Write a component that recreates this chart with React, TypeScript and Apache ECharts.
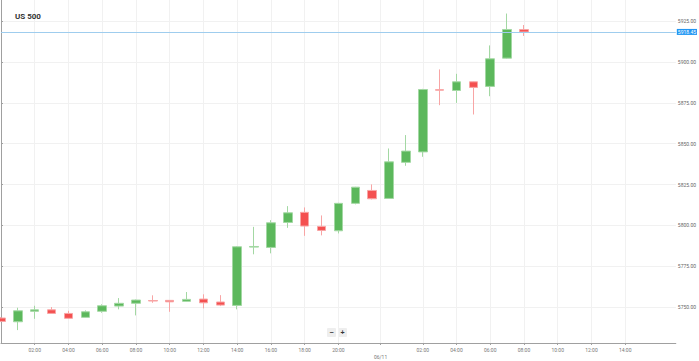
import React, { useEffect, useRef } from 'react';
import * as echarts from 'echarts';

const chartTitle = 'US 500';

// hourly slots (index on the category axis)
const slots = [
  '06/10 00:00', '06/10 01:00', '06/10 02:00', '06/10 03:00', '06/10 04:00', '06/10 05:00',
  '06/10 06:00', '06/10 07:00', '06/10 08:00', '06/10 09:00', '06/10 10:00', '06/10 11:00',
  '06/10 12:00', '06/10 13:00', '06/10 14:00', '06/10 15:00', '06/10 16:00', '06/10 17:00',
  '06/10 18:00', '06/10 19:00', '06/10 20:00', '06/10 21:00', '06/10 23:00',
  '06/11 00:00', '06/11 01:00', '06/11 02:00', '06/11 03:00', '06/11 04:00', '06/11 05:00',
  '06/11 06:00', '06/11 07:00', '06/11 08:00', '06/11 09:00', '06/11 10:00', '06/11 11:00',
  '06/11 12:00', '06/11 13:00', '06/11 14:00', '06/11 15:00', '06/11 16:00', '06/11 17:00',
];

const opens = [
  5743.3, 5741.0, 5747.4, 5748.3, 5746.1, 5743.7, 5747.4, 5750.6, 5752.3, 5754.0, 5754.1,
  5753.5, 5754.9, 5753.1, 5751.0, 5786.7, 5786.5, 5801.8, 5808.0, 5799.4, 5796.7, 5813.5,
  5821.4, 5816.5, 5838.6, 5845.0, 5883.1, 5882.6, 5887.9, 5885.1, 5902.4, 5919.9,
];
const closes = [
  5741.2, 5747.7, 5748.3, 5746.1, 5743.1, 5747.1, 5750.8, 5752.3, 5754.3, 5753.7, 5753.2,
  5754.7, 5752.6, 5751.2, 5786.9, 5787.1, 5801.6, 5807.7, 5799.6, 5796.9, 5813.5, 5823.4,
  5816.3, 5838.9, 5845.5, 5883.2, 5882.8, 5887.9, 5884.5, 5902.0, 5919.95, 5918.45,
];
const lows = [
  5740.8, 5735.9, 5742.8, 5746.0, 5742.7, 5743.6, 5746.5, 5748.6, 5744.9, 5752.6, 5747.1,
  5753.4, 5749.2, 5750.6, 5748.6, 5782.3, 5782.9, 5798.5, 5793.6, 5793.9, 5795.1, 5812.9,
  5815.9, 5816.4, 5836.5, 5842.0, 5873.6, 5875.0, 5867.9, 5879.1, 5902.1, 5916.0,
];
const highs = [
  5743.9, 5749.6, 5750.8, 5750.0, 5747.7, 5748.0, 5751.7, 5755.5, 5754.6, 5757.2, 5754.3,
  5759.2, 5757.8, 5757.3, 5787.3, 5799.1, 5803.2, 5811.8, 5811.0, 5806.1, 5813.8, 5823.6,
  5825.1, 5847.1, 5855.3, 5883.6, 5895.5, 5892.8, 5888.0, 5910.2, 5929.7, 5922.7,
];

const yTicks = [5750, 5775, 5800, 5825, 5850, 5875, 5900, 5925];
const yMin = 5728;
const yMax = 5938;

const xTickPos = [2, 4, 6, 8, 10, 12, 14, 16, 18, 20, 22.5, 25, 27, 29, 31, 33, 35, 37];
const xTickLabels = [
  '02:00', '04:00', '06:00', '08:00', '10:00', '12:00', '14:00', '16:00', '18:00', '20:00',
  '06/11', '02:00', '04:00', '06:00', '08:00', '10:00', '12:00', '14:00',
];
const dateLabels = ['06/11'];

export default function App() {
  const ref = useRef<HTMLDivElement>(null);

  useEffect(() => {
    document.body.style.margin = '0';
    if (!ref.current) return;
    const chart = echarts.init(ref.current, null, { renderer: 'svg' });
    const data = opens.map((o, i) => [o, closes[i], lows[i], highs[i]]);
    const lastClose = closes[closes.length - 1];
    const font = 'Roboto, "Noto Sans", sans-serif';

    chart.setOption({
      animation: false,
      backgroundColor: '#ffffff',
      textStyle: { fontFamily: font },
      title: {
        text: chartTitle,
        left: 10,
        top: 7,
        textStyle: { fontSize: 8, fontWeight: 'bold', color: '#333', fontFamily: font },
      },
      grid: { left: 1, right: 23, top: 0, bottom: 18, containLabel: false },
      xAxis: [
        {
          type: 'category',
          data: slots,
          boundaryGap: false,
          position: 'bottom',
          show: false,
          axisLine: { show: false },
          splitLine: { show: false },
        },
        {
          type: 'value',
          position: 'bottom',
          min: 0,
          max: slots.length - 1,
          axisLine: { show: true, lineStyle: { color: '#a0a0a0', width: 1 } },
          axisTick: { show: true, length: 2, customValues: xTickPos, lineStyle: { color: '#a0a0a0' } },
          axisLabel: {
            customValues: xTickPos,
            fontSize: 5,
            color: '#777',
            margin: 3,
            lineHeight: 7,
            fontFamily: font,
            formatter: (v: number) => {
              const i = xTickPos.indexOf(v);
              const t = i >= 0 ? xTickLabels[i] : '';
              return dateLabels.includes(t) ? '\n' + t : t;
            },
          },
          splitLine: { show: true, lineStyle: { color: '#f1f1f1', width: 1 } },
        },
      ],
      yAxis: {
        type: 'value',
        position: 'right',
        min: yMin,
        max: yMax,
        axisLine: { show: true, lineStyle: { color: '#a0a0a0', width: 1 } },
        axisTick: { show: true, length: 2, customValues: yTicks, lineStyle: { color: '#a0a0a0' } },
        axisLabel: {
          customValues: yTicks,
          fontSize: 5,
          color: '#666',
          margin: 2,
          fontFamily: font,
          formatter: (v: number) => v.toFixed(2),
        },
        splitLine: { show: true, lineStyle: { color: '#f1f1f1', width: 1 } },
      },
      series: [
        {
          type: 'candlestick',
          xAxisIndex: 0,
          yAxisIndex: 0,
          data,
          barWidth: 9,
          clip: true,
          itemStyle: {
            color: '#5cb85c',
            color0: '#f45050',
            borderColor: '#a3d8a3',
            borderColor0: '#f8a5a5',
            borderWidth: 1,
          },
          markLine: {
            silent: true,
            symbol: ['none', 'none'],
            animation: false,
            data: [{ yAxis: lastClose }],
            lineStyle: { color: '#9fcdee', type: 'solid', width: 1 },
            label: {
              show: true,
              position: 'end',
              distance: 1,
              formatter: (p: any) => Number(p.value).toFixed(2),
              backgroundColor: '#2196f3',
              color: '#ffffff',
              fontSize: 5,
              padding: [1, 1, 0, 1],
              fontFamily: font,
            },
            emphasis: { disabled: true },
          },
        },
      ],
      graphic: [
        {
          type: 'group',
          left: 327,
          top: 328,
          children: [
            { type: 'rect', shape: { x: 0, y: 0, width: 9, height: 9, r: 1 }, style: { fill: '#eeeeee' } },
            { type: 'text', x: 4.5, y: 4.5, style: { text: '−', fill: '#333', font: 'bold 7px sans-serif', align: 'center', verticalAlign: 'middle' } },
            { type: 'rect', shape: { x: 11, y: 0, width: 9, height: 9, r: 1 }, style: { fill: '#eeeeee' } },
            { type: 'text', x: 15.5, y: 4.5, style: { text: '+', fill: '#333', font: 'bold 7px sans-serif', align: 'center', verticalAlign: 'middle' } },
          ],
        },
      ],
    });

    return () => {
      chart.dispose();
    };
  }, []);

  return <div ref={ref} style={{ width: 699, height: 361 }} />;
}
